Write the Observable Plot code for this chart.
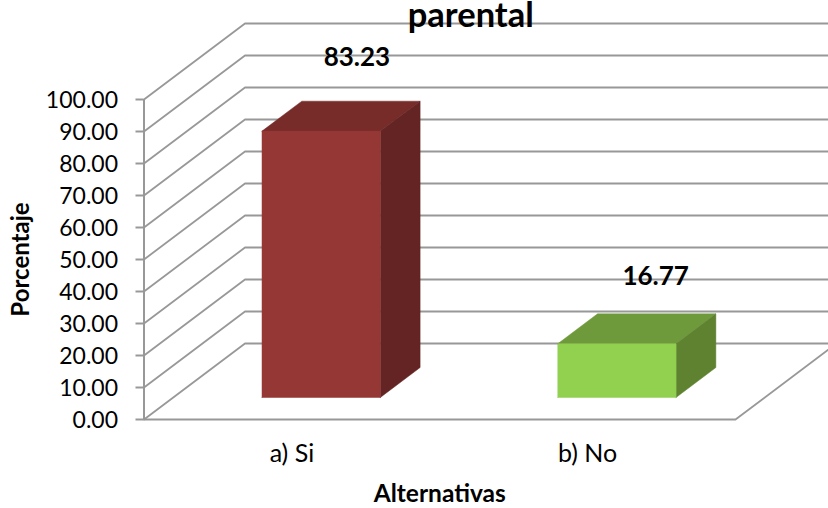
<!DOCTYPE html>
<html>
<head>
<meta charset="utf-8">
<script src="https://cdn.jsdelivr.net/npm/d3@7"></script>
<script src="https://cdn.jsdelivr.net/npm/@observablehq/plot@0.6"></script>
<style>
  html, body { margin: 0; padding: 0; background: #fff; overflow: hidden; }
  svg { display: block; overflow: hidden; }
</style>
</head>
<body>
<div id="chart"></div>
<script>
const categories = ["a) Si", "b) No"];
const values = [83.23, 16.77];
const tickValues = [0, 10, 20, 30, 40, 50, 60, 70, 80, 90, 100];
const titleText = "parental";
const xLabel = "Alternativas";
const yLabel = "Porcentaje";
const frontColors = ["#953735", "#92d050"];
const topColors = ["#772c2a", "#6f9a3c"];
const sideColors = ["#632423", "#5e8230"];

// Oblique 3D projection, expressed in scale units
const depthX = 0.3415;
const depthY = 23.75;
const barFront = 0.29;
const barBack = 0.684;
const barHalf = 0.2;
const gridEnd = 2.4;
const P = (x, v, d) => ({x: x + d * depthX, y: v + d * depthY});

const grey = "#989898";
const gridW = 1.8;
const marks = [];

// back wall gridlines and side wall
for (const t of tickValues) {
  marks.push(Plot.line([P(0, t, 0), P(0, t, 1), P(gridEnd - depthX, t, 1)],
    {x: "x", y: "y", stroke: grey, strokeWidth: gridW}));
}
// floor outline
marks.push(Plot.line([P(0, 0, 0), P(2, 0, 0), P(2, 0, 1)],
  {x: "x", y: "y", stroke: grey, strokeWidth: gridW}));
// vertical axis line
marks.push(Plot.ruleX([0], {y1: 0, y2: 100, stroke: grey, strokeWidth: 2}));

// bars
const poly = (pts, fill) => Plot.line(pts, {x: "x", y: "y", fill, stroke: fill, strokeWidth: 0.5});
values.forEach((v, i) => {
  const c = i + 0.5, l = c - barHalf, r = c + barHalf;
  marks.push(poly([P(l, v, barFront), P(l, v, barBack), P(r, v, barBack), P(r, v, barFront), P(l, v, barFront)], topColors[i]));
  marks.push(poly([P(r, 0, barFront), P(r, v, barFront), P(r, v, barBack), P(r, 0, barBack), P(r, 0, barFront)], sideColors[i]));
  marks.push(poly([P(l, 0, barFront), P(l, v, barFront), P(r, v, barFront), P(r, 0, barFront), P(l, 0, barFront)], frontColors[i]));
});

// data labels
const labelShift = [{dx: -4, dy: -44}, {dx: -1, dy: -37}];
values.forEach((v, i) => {
  const p = P(i + 0.5, v, barBack);
  marks.push(Plot.text([p], {
    x: "x", y: "y", text: () => v.toFixed(2),
    dx: labelShift[i].dx, dy: labelShift[i].dy,
    fontSize: 26, fontWeight: "bold", fill: "#000"
  }));
});

// axes
marks.push(Plot.axisY({
  ticks: tickValues, tickFormat: null, text: null, tickSize: 8,
  stroke: grey, strokeWidth: 2, label: null
}));
marks.push(Plot.text(tickValues, {
  x: 0, y: d => d, text: d => d.toFixed(2), textAnchor: "end",
  dx: -26, dy: 1.5, fill: "#000", fontSize: 23
}));
marks.push(Plot.axisX({
  ticks: [0.5, 1.5], tickFormat: d => categories[Math.floor(d)], tickSize: 0, tickPadding: 25,
  fill: "#000", fontSize: 25, label: null
}));

// axis titles and chart title
marks.push(Plot.text([xLabel], {text: d => d, frameAnchor: "bottom", dy: 82, fontSize: 24.5, fontWeight: "bold", fill: "#000"}));
marks.push(Plot.text([yLabel], {text: d => d, frameAnchor: "left", textAnchor: "middle", rotate: -90, dx: -123, fontSize: 24, fontWeight: "bold", fill: "#000"}));
marks.push(Plot.text([titleText], {text: d => d, frameAnchor: "top", dx: 31, dy: -97, fontSize: 34.5, fontWeight: "bold", fill: "#000"}));

const chart = Plot.plot({
  width: 828,
  height: 508,
  marginLeft: 143.5,
  marginRight: 93,
  marginTop: 99,
  marginBottom: 89,
  style: {fontFamily: "Lato, sans-serif", background: "#fff", overflow: "hidden"},
  x: {domain: [0, 2], axis: null},
  y: {domain: [0, 100], axis: null},
  marks
});
document.getElementById("chart").appendChild(chart);
</script>
</body>
</html>
